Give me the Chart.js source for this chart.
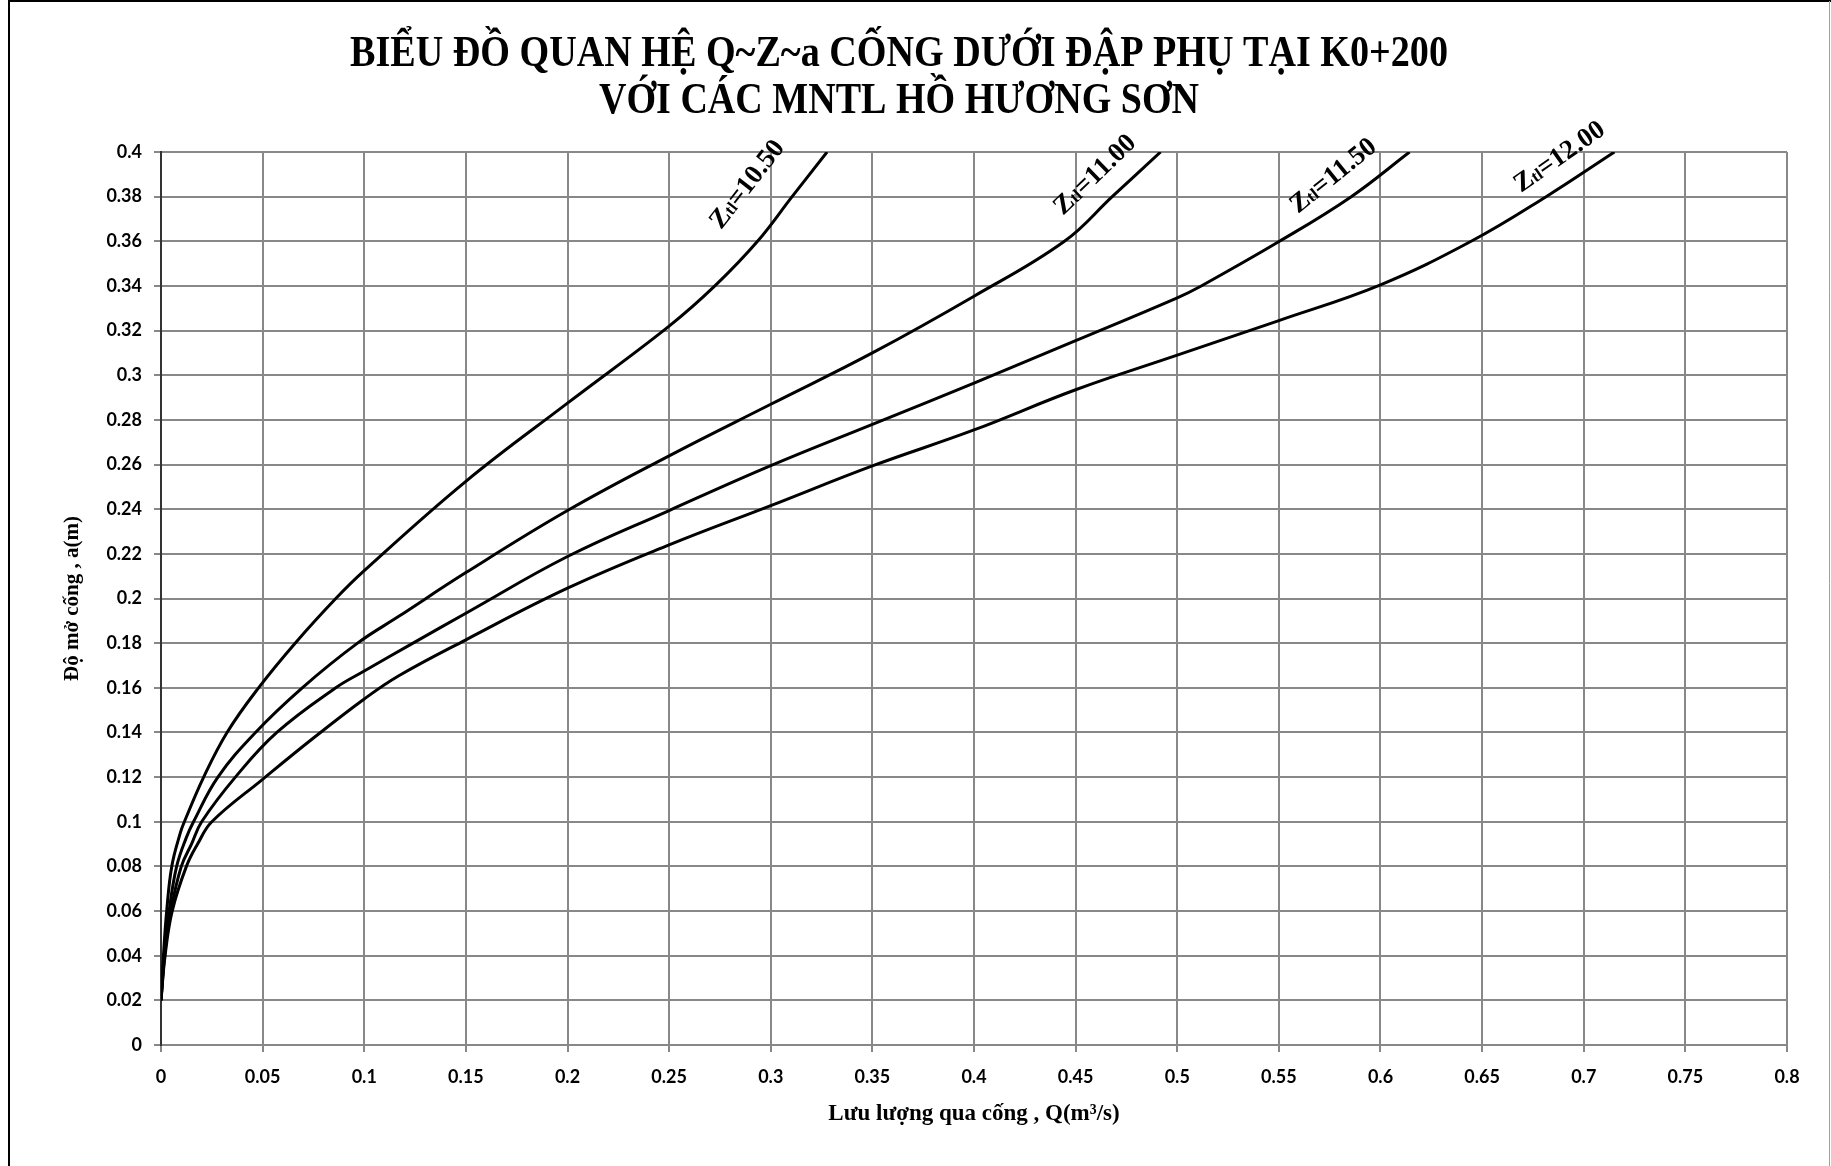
<!DOCTYPE html>
<html><head><meta charset="utf-8">
<script src="https://cdn.jsdelivr.net/npm/chart.js@4.4.1/dist/chart.umd.min.js"></script>
<style>html,body{margin:0;padding:0;background:#fff;}canvas{display:block;}</style>
</head><body>
<canvas id="c" width="1831" height="1166"></canvas>
<script>
// ---------- data ----------
const titleLines = ["BIỂU ĐỒ QUAN HỆ Q~Z~a CỐNG DƯỚI ĐẬP PHỤ TẠI K0+200", "VỚI CÁC MNTL HỒ HƯƠNG SƠN"];
const xAxisTitle = "Lưu lượng qua cống , Q(m³/s)";
const yAxisTitle = "Độ mở cống , a(m)";
const xTicks = [0, 0.05, 0.1, 0.15, 0.2, 0.25, 0.3, 0.35, 0.4, 0.45, 0.5, 0.55, 0.6, 0.65, 0.7, 0.75, 0.8];
const xTickLabels = ["0","0.05","0.1","0.15","0.2","0.25","0.3","0.35","0.4","0.45","0.5","0.55","0.6","0.65","0.7","0.75","0.8"];
const yTicks = [0, 0.02, 0.04, 0.06, 0.08, 0.1, 0.12, 0.14, 0.16, 0.18, 0.2, 0.22, 0.24, 0.26, 0.28, 0.3, 0.32, 0.34, 0.36, 0.38, 0.4];
const yTickLabels = ["0","0.02","0.04","0.06","0.08","0.1","0.12","0.14","0.16","0.18","0.2","0.22","0.24","0.26","0.28","0.3","0.32","0.34","0.36","0.38","0.4"];

const seriesNames = ["10.50", "11.00", "11.50", "12.00"];

const q1050 = [0, 0.0012, 0.0028, 0.0053, 0.0095, 0.0115, 0.021, 0.0325, 0.048, 0.066, 0.086, 0.1, 0.15, 0.2, 0.25, 0.2725, 0.2935, 0.3105, 0.3277];
const a1050 = [0.02, 0.04, 0.06, 0.08, 0.095, 0.10, 0.12, 0.14, 0.16, 0.18, 0.20, 0.2125, 0.2525, 0.2875, 0.322, 0.34, 0.36, 0.38, 0.40];

const q1100 = [0, 0.0016, 0.004, 0.0077, 0.0125, 0.016, 0.028, 0.0465, 0.0695, 0.0967, 0.117, 0.15, 0.2, 0.25, 0.3, 0.35, 0.4, 0.4445, 0.468, 0.4918];
const a1100 = [0.02, 0.04, 0.06, 0.08, 0.093, 0.10, 0.12, 0.14, 0.16, 0.18, 0.192, 0.2116, 0.2394, 0.2639, 0.287, 0.31, 0.3354, 0.36, 0.38, 0.40];

const q1150 = [0, 0.0018, 0.0048, 0.01, 0.015, 0.02, 0.0366, 0.057, 0.086, 0.1, 0.124, 0.15, 0.2, 0.25, 0.3, 0.35, 0.4, 0.45, 0.5, 0.5118, 0.5503, 0.5856, 0.6143];
const a1150 = [0.02, 0.04, 0.06, 0.08, 0.09, 0.10, 0.12, 0.14, 0.16, 0.1675, 0.18, 0.1934, 0.2188, 0.2394, 0.2595, 0.278, 0.2965, 0.3155, 0.3347, 0.34, 0.36, 0.38, 0.40];

const q1200 = [0, 0.002, 0.0055, 0.0125, 0.018, 0.025, 0.05, 0.075, 0.1, 0.117, 0.15, 0.2, 0.25, 0.3, 0.35, 0.4, 0.45, 0.5, 0.55, 0.6, 0.6446, 0.6815, 0.7151];
const a1200 = [0.02, 0.04, 0.06, 0.08, 0.09, 0.10, 0.119, 0.1375, 0.155, 0.1654, 0.1815, 0.2046, 0.224, 0.2416, 0.2594, 0.2755, 0.2935, 0.309, 0.3245, 0.3405, 0.36, 0.38, 0.40];

// curve label anchors (in data units: Q, a) and rotation
const labelQ = [0.2755, 0.4438, 0.5594, 0.6691];
const labelA = [0.365, 0.3713, 0.3722, 0.3816];
const labelAngle = [-52, -44, -39, -35];

// ---------- chart ----------
const zip = (qs, as) => qs.map((q, i) => ({x: q, y: as[i]}));
const seriesQ = [q1050, q1100, q1150, q1200];
const seriesA = [a1050, a1100, a1150, a1200];

const datasets = seriesNames.map((n, i) => ({
  label: "Ztl=" + n,
  data: zip(seriesQ[i], seriesA[i]),
  borderColor: "#000",
  borderWidth: 3,
  pointRadius: 0,
  showLine: true,
  fill: false,
  tension: 0.4
}));

const SERIF = '"Liberation Serif", "Times New Roman", serif';
const TICKFONT = {family: 'Lato, "Open Sans", sans-serif', size: 18, weight: 'bold'};

const decor = {
  id: 'decor',
  afterDraw(chart) {
    const ctx = chart.ctx;
    const xs = chart.scales.x, ys = chart.scales.y;
    ctx.save();
    // outer frame
    ctx.strokeStyle = '#000';
    ctx.lineWidth = 2;
    ctx.beginPath();
    ctx.moveTo(9, 1166); ctx.lineTo(9, 1); ctx.lineTo(1831, 1);
    ctx.stroke();
    ctx.strokeStyle = '#a0a0a0';
    ctx.lineWidth = 1;
    ctx.beginPath(); ctx.moveTo(1829.5, 1); ctx.lineTo(1829.5, 1166); ctx.stroke();

    // title
    ctx.fillStyle = '#000';
    ctx.textAlign = 'center';
    ctx.textBaseline = 'alphabetic';
    ctx.font = 'bold 45px ' + SERIF;
    const tw = [1098, 600];
    const tb = [66, 113];
    titleLines.forEach((t, i) => {
      const w = ctx.measureText(t).width;
      ctx.save();
      ctx.translate(899, tb[i]);
      ctx.scale(tw[i] / w, 1);
      ctx.fillText(t, 0, 0);
      ctx.restore();
    });

    // curve labels
    ctx.textAlign = 'left';
    seriesNames.forEach((n, i) => {
      const px = xs.getPixelForValue(labelQ[i]);
      const py = ys.getPixelForValue(labelA[i]);
      ctx.save();
      ctx.translate(px, py);
      ctx.rotate(labelAngle[i] * Math.PI / 180);
      ctx.font = 'bold 27px ' + SERIF;
      ctx.fillText('Z', 0, 0);
      let w = ctx.measureText('Z').width;
      ctx.font = 'bold 17px ' + SERIF;
      ctx.fillText('tl', w, 0);
      w += ctx.measureText('tl').width;
      ctx.font = 'bold 27px ' + SERIF;
      ctx.fillText('=' + n, w, 0);
      ctx.restore();
    });
    ctx.restore();
  }
};

new Chart(document.getElementById('c'), {
  type: 'scatter',
  data: {datasets},
  plugins: [decor],
  options: {
    responsive: false,
    animation: false,
    devicePixelRatio: 1,
    layout: {padding: {top: 152, right: 44, bottom: 0, left: 0}},
    plugins: {legend: {display: false}, tooltip: {enabled: false}, title: {display: false}},
    scales: {
      x: {
        type: 'linear', min: 0, max: 0.8,
        afterBuildTicks: s => { s.ticks = xTicks.map(v => ({value: v})); },
        afterFit: s => { s.height = 121; },
        ticks: {color: '#000', font: TICKFONT, padding: 14, maxRotation: 0, autoSkip: false,
          callback: (v, i) => xTickLabels[i]},
        grid: {color: '#888', lineWidth: 2, tickLength: 7},
        border: {color: '#888', width: 2},
        title: {display: true, text: xAxisTitle, color: '#000',
          font: {family: SERIF, size: 23, weight: 'bold'}, padding: {top: 0, bottom: 38}}
      },
      y: {
        type: 'linear', min: 0, max: 0.4,
        afterBuildTicks: s => { s.ticks = yTicks.map(v => ({value: v})); },
        afterFit: s => { s.width = 161; },
        ticks: {color: '#000', font: TICKFONT, padding: 12, autoSkip: false,
          callback: (v, i) => yTickLabels[i]},
        grid: {color: '#888', lineWidth: 2, tickLength: 7},
        border: {color: '#333', width: 2},
        title: {display: true, text: yAxisTitle, color: '#000',
          font: {family: SERIF, size: 21, weight: 'bold'}, padding: {top: 60, bottom: 0}}
      }
    }
  }
});
</script>
</body></html>
